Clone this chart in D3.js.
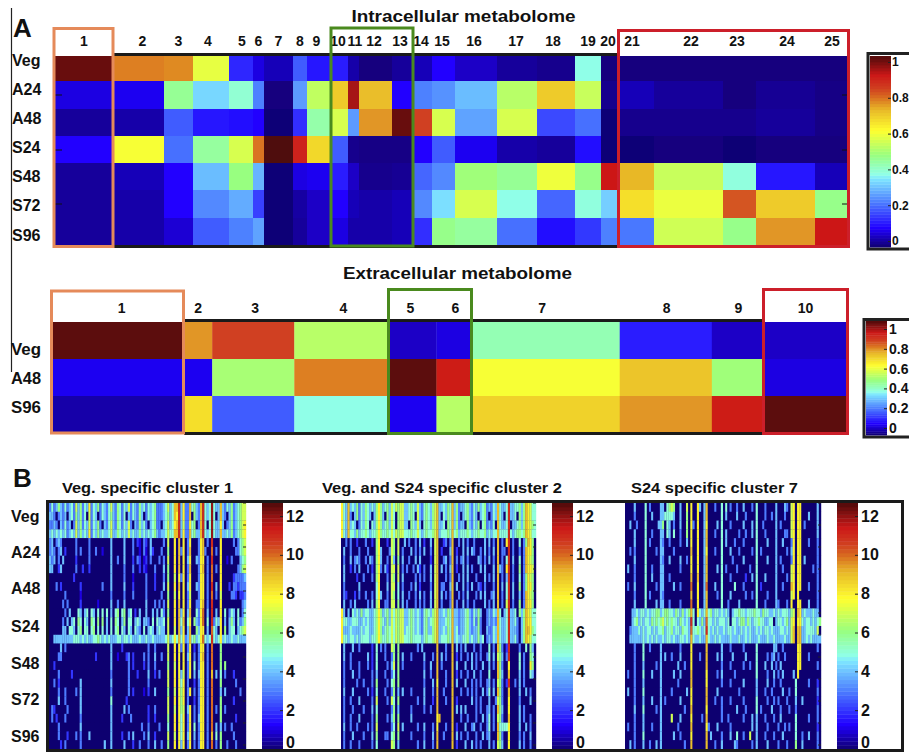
<!DOCTYPE html>
<html>
<head>
<meta charset="utf-8">
<script src="https://cdn.jsdelivr.net/npm/d3@7"></script>
<style>
  html, body { margin: 0; padding: 0; background: #fff; }
  svg { display: block; }
  text { font-family: "Liberation Sans", Arial, sans-serif; font-weight: bold; fill: #111; }
</style>
</head>
<body>
<svg id="chart" width="909" height="752"></svg>
<script>
const intraConditions = ['Veg', 'A24', 'A48', 'S24', 'S48', 'S72', 'S96']
const extraConditions = ['Veg', 'A48', 'S96']
const intraClusters = d3.range(1, 26)
const extraClusters = d3.range(1, 11)

// how many metabolites fall in each cluster (read as relative widths)
const intraSizes = [58, 51, 29, 36, 24, 11, 29, 14, 25, 16, 11, 33, 21, 19, 23, 42, 40, 38, 26, 19, 34, 69, 33, 59, 34]
const extraSizes = [133, 28, 82, 94, 48, 36, 147, 92, 51, 85]

const intraValues = [
  [.98, .77, .76, .58, .14, .08, .05, .2, .12, .13, .04, .01, .03, .05, .1, .06, .03, .02, .38, .01, .01, .01, .01, .01, .01],
  [.08, .09, .46, .34, .4, .24, .01, .27, .53, .69, .93, .71, .1, .24, .26, .31, .52, .69, .54, .02, .05, .03, .01, .025, .015],
  [.03, .04, .2, .12, .11, .1, .005, .15, .44, .56, .27, .75, .98, .83, .56, .28, .56, .18, .22, .005, .02, .02, .02, .03, .015],
  [.1, .6, .22, .45, .56, .78, 1, .88, .67, .2, .02, .015, .015, .1, .2, .09, .04, .03, .11, .005, .005, .01, .003, .01, .01],
  [.03, .05, .1, .31, .48, .3, .005, .08, .09, .13, .06, .02, .025, .21, .25, .49, .46, .59, .47, .9, .72, .54, .39, .12, .05],
  [.03, .04, .1, .25, .29, .17, .005, .035, .06, .1, .05, .04, .05, .25, .35, .56, .38, .21, .39, .33, .66, .585, .81, .69, .47],
  [.03, .04, .07, .2, .24, .28, .005, .03, .06, .08, .04, .04, .05, .15, .47, .45, .22, .11, .16, .24, .23, .55, .47, .75, .9]
]
const extraValues = [
  [.99, .75, .83, .52, .06, .08, .43, .13, .06, .06],
  [.09, .09, .5, .77, .99, .89, .6, .7, .49, .08],
  [.04, .66, .2, .38, .09, .52, .68, .75, .89, .99]
]

const colorStops = [0, .1, .23, .36, .38, .48, .61, .72, .79, .83, .9, .96, 1]
const colorHex = ['#100070', '#2000ff', '#4a78ff', '#80e8ff', '#90ffe8', '#98ff80', '#ffff30', '#e8b828', '#d86820', '#d04020', '#cc1818', '#801010', '#500a0a']

// panel B: one row of characters per replicate, each character is log2 intensity 0-12 (a=10, b=11, c=12)
const clusterTitles = ['Veg. specific cluster 1', 'Veg. and S24 specific cluster 2', 'S24 specific cluster 7']
const clusterLabels = [12, 10, 8, 6, 4, 2, 0]

const vegCluster = [
  '3534643534 5374635483 5463543574 3653547354 3645354563 334574599b 4833956439 b545c54494 3546345677',
  '4430343404 5364635073 5403543564 3653504354 3640354563 334564598b 4833906439 b545c50494 3046345677',
  '3343043534 0374635473 5463043574 3653547304 3645304563 304574589b 4733856039 b505c54484 0346345678',
  '4545454534 5474645483 5464544574 4654547454 4645454564 344575599b 4833956449 b545c54494 4546345678',
  '3403430000 0030000030 0000000040 0000400030 2103204000 0030700809 0803800038 9030b00080 0000303567',
  '3430340200 0030300030 0300100040 0000400030 0103104200 0300600809 3803900038 9300a03080 0000033567',
  '4340304000 0020000030 0000000040 0300400020 3201203000 3030700809 0804800438 8030b00080 0103000456',
  '4400240000 0030020020 0000000040 0000300030 0202100030 0040600809 0803900038 9030a03080 0000003467',
  '0000000000 0200000000 0000000040 0000300010 0000300020 0030600708 3803800038 8030a00080 0000233334',
  '0003020000 0000200000 0000300040 0000400020 0000300020 0040700809 0804800438 8030b04080 0020332333',
  '0000000300 0000100000 0000000030 0000300030 0000300000 0300600708 0803700038 8030a03070 0003320223',
  '0000003030 0000200000 0010000040 0300400000 0000400030 3030700809 0803800338 9030b00080 0000000034',
  '0000000304 0005404505 4050505040 5605604502 0400400404 0530600809 4804900538 a040b04080 5035405035',
  '0000003040 4506505406 5060604050 6504605504 5404430505 4450700809 5905806438 a050b35480 4046405346',
  '0000004405 5405605505 6050504050 5605405405 4305045404 5440700709 4804900648 8040a54080 6045504567',
  '0044444444 4555454544 5565454544 4554554544 4544544544 4445745859 5834956458 a545b54584 5445445444',
  '0000040300 0000000000 0000000040 0002000000 0000030030 0000700808 3803802038 8030a00060 0000000000',
  '0000330000 0000000000 0200000040 0100023020 0003030040 0300700808 0804803038 9030a00060 0000000000',
  '0020000000 0000000000 0000000040 0000003020 0002030030 0000600708 0803805038 8030a00060 6000000000',
  '0000300000 2000000000 0000000030 0000003000 2000040020 3000700808 4703804048 8030904050 3000200000',
  '0030200000 0000400000 0000000040 0000003000 0000030000 0000700808 5803002038 8030a00060 0000030000',
  '0000300300 0030400000 0000000030 0000003020 0001020040 0000600708 6803803038 8030a00040 4000000300',
  '0000400300 0000400000 0000000050 0000020000 0000000000 0000700808 6803002038 8030a00060 0000200000',
  '0320000030 0000400000 0000000040 0000403000 0000020030 0000700708 6704803038 8030a03060 3000000000',
  '0302000300 0000300000 0000000040 0002000300 0000020020 0000600808 5803803048 8030a00060 0000020000',
  '0000300000 0000400000 0000000040 0000000000 0030030000 3000500808 5803805038 8030a04040 3003000000',
  '0000300020 0030300040 0000000040 0002003040 0003040020 0000700708 5804804038 8030905060 0000300000',
  '0000020300 0000300000 0000040040 0000400020 0300030040 0300600808 4803803038 8030a03060 0300030000'
]

const vegS24Cluster = [
  '8549454635 4654546864 5647576774 4565474356 5467944546 5946344564 3546456343 5495445b44 5564698755',
  '8549304635 4654046864 0647506774 4565074356 5467940546 5946304564 3540456303 5495405b44 5064698755',
  '8549454035 4650546864 5647506774 4065474056 5467944506 5946344064 3546056343 5095445b04 4564698765',
  '8549554645 5654556865 5657576775 5565575456 5567945556 5956455565 4556556454 5595555b54 5665698755',
  '0030300200 0300206800 0207607004 0300304020 0407900230 3900304030 0300004040 3090308b03 0050369860',
  '0400300030 0030006840 0037607030 0040303040 0307902000 4902004040 4300304030 4090330b03 0030398860',
  '0300403430 0304306840 0307406040 0300404000 0207900340 3903034030 0004303040 3090305b04 0050398760',
  '0400203040 0030206830 4207707030 3003042030 0407904030 4902004040 3000404000 4094308b03 0060398870',
  '0400000200 3000306800 0307607040 0000303030 0407900030 3900304040 0030004030 4090304b03 0050368760',
  '0300000040 0000005800 0407705030 0030402000 0307903300 4904004030 4003203000 3090405b04 0060368860',
  '0320002030 0300305840 0307605040 0300304030 0407904030 3900303040 0030404003 4090305b04 0040398760',
  '0400304000 0030406800 3307706040 3000303030 0407903000 3903004030 0300004030 4090307b03 0060398860',
  '8404054546 4554456864 5647576774 4565454356 5467944546 5944344564 3546400343 5495045b44 5064698755',
  '8554455544 5454456865 4647576774 4565454356 4567944456 5944344564 3536300343 4395445b44 5304698855',
  '8444544445 4554456864 5657576774 5565454356 4467944546 5945344564 3446300433 5495445b44 4304699865',
  '8554554545 5554556865 5657576775 5565555456 5567945556 5945445564 5446450343 5495445b44 5304698755',
  '0400040030 0000205030 3007606000 0000030400 0000900030 0904030400 0300300050 3096302b00 0030050640',
  '0400300000 0040205000 3003606040 0030000040 0030904030 0902030030 4030300350 4076403b00 0050300650',
  '0300300030 0030205000 0304706030 0000000030 0400903000 0904000400 4030040040 3096300800 0050300860',
  '0300040030 0000304000 3003506000 0000000040 0300900030 0902030030 0400300050 0096400900 0040300540',
  '0300000300 3000306000 0305606000 0000000030 0040800030 0904000400 3030300340 3076302b00 3040300000',
  '0400040000 0030205000 3003604040 0030000040 0030900300 0900030030 3030040350 4096300900 0040040300',
  '0300300040 0000307000 0307506000 0000030040 0020900030 0902000000 4030300040 0376300800 0030000400',
  '0300030000 3000405000 0003604000 0030000030 0300900000 0904040400 0030300340 3096400800 0040300000',
  '0300300040 0000306000 0304606000 0040000000 0000890000 0900030030 0030040350 3076300900 0040300300',
  '0400300300 0030307000 0003507040 0000030040 0030800030 0902000400 3400300350 3095555800 0040040300',
  '0300040000 3000406000 3305606000 0030000030 0040900300 0904030030 0030040340 0096300800 0030300400',
  '0300300030 0000305000 0007604000 0000030040 0030900000 0902000400 4030300040 3076400800 0040300300'
]

const s24Cluster = [
  '0000400005 0300004405 6760040070 8008404900 0300505030 0300400030 5000300004 0004307808 8000000040',
  '0000300005 0040004455 5540040060 8008004900 0000504000 0400030000 5000300304 0003007808 8000400040',
  '0040030005 0000044605 4030040060 8308004800 0040500030 0000400040 5003000004 0300007808 8030000040',
  '0000400005 0030004405 4050030060 8008004900 0300504000 0030030040 5000300004 0003307808 8000000040',
  '0000400005 0300004300 3000030040 8008004900 0000504000 3000300000 5000040004 0040003808 8000300030',
  '0030300005 0000304400 0030000000 9008004800 0300500040 0030000030 5030000004 0000304808 8000000030',
  '0000400005 0000004300 4000040030 8008004900 0000500003 0000400000 5000040004 0300003808 8040000030',
  '0400300005 0030004400 0000030000 8008004900 0040503000 0300000300 5000000004 0030007808 8000003030',
  '0000300005 0040004400 3000000000 9009004900 0000500030 0000020040 5000400004 0000307808 8000000030',
  '0300400005 0000304400 0040030000 a008004a00 0400500000 5000300000 5020000004 0030009808 8000300030',
  '0000300005 0300004300 0000000000 9008004900 0030500040 0000030030 5000030004 0000007808 0000000030',
  '0000400005 0000404400 3000030000 a008004900 0000500300 0040000000 5000300004 3000308008 8000400030',
  '0004454554 5455664566 5546546456 9508545956 4554545404 5565545556 5546554454 5455546709 8454445440',
  '0004564545 5465656756 5655465454 b505464a55 4545554505 5456646545 5655445504 5545647808 8545545456',
  '0034445454 5545455645 5645546554 a556545b54 5454454554 5445454544 5454554544 4554547909 9445555470',
  '0044444454 5454544545 5454455454 9544544954 4545444454 4454454544 4544454454 4445447909 9445454444',
  '0000300050 0300004000 0000030000 8000000900 0000400030 0000300000 5000000044 0030000008 8000000030',
  '0000300050 0000004040 0300040000 8000300900 0040400004 0000040000 5000030340 3003000008 8000300000',
  '0000300040 0000304000 0000400300 8000000900 0000300030 0000300300 5000400403 0400000008 8000000030',
  '0300300050 0040004000 0040040000 9000000800 0030400000 3000000000 5000030040 3040000408 0000000000',
  '0000300040 0000004000 0000300000 9000000800 0000300030 0000400000 4000040030 0300000050 0000300020',
  '0400300050 0000004000 0300000040 8000000900 0040000000 0030000000 4000300300 0040030050 0000000030',
  '0000300040 0040004030 0000040000 8000000900 0300300030 0000300000 5000030030 3000300040 0400000020',
  '0000400050 0000304000 0000000300 9000000800 0000300000 0400030000 5030000400 0300030030 0000000030',
  '0000300040 0000004000 0700040000 8000030900 0000300300 0000300040 4000300030 0400000050 0000300030',
  '0300300040 0030004000 0000300000 9000000830 0040000030 0000000040 4000030000 3003030050 0000000020',
  '0000300050 0000004000 0040030000 8000000904 0000300040 0500300700 4000300030 0040000050 0300400030',
  '0040300040 0300404000 0000000300 9000000900 0300400000 4300000030 4000040000 3000300060 0400000030'
]

const svg = d3.select('#chart')
const jet = d3.scaleLinear().domain(colorStops).range(colorHex).clamp(true)
const logMax = 12.7

svg.append('defs').append('filter').attr('id', 'soft')
  .append('feGaussianBlur').attr('stdDeviation', 0.45)

function addText(x, y, str, size, anchor, length) {
  const t = svg.append('text')
    .attr('x', x).attr('y', y)
    .attr('font-size', size)
    .attr('text-anchor', anchor || 'start')
    .attr('dominant-baseline', 'central')
    .text(str)
  if (length) t.attr('textLength', length).attr('lengthAdjust', 'spacingAndGlyphs')
  return t
}

function addBox(x, y, w, h, color) {
  svg.append('rect')
    .attr('x', x).attr('y', y).attr('width', w).attr('height', h)
    .attr('fill', 'none').attr('stroke', color).attr('stroke-width', 3)
}

// cluster heatmap of panel A: column widths follow the cluster sizes
function clusterHeatmap(values, sizes, x0, x1, rowEdges) {
  const edges = d3.cumsum([0].concat(sizes))
  const x = d3.scaleLinear().domain([0, d3.sum(sizes)]).range([x0, x1])
  const y = d3.scaleLinear().domain(d3.range(rowEdges.length)).range(rowEdges)

  const g = svg.append('g').attr('filter', 'url(#soft)')
  values.forEach((row, r) => {
    g.selectAll(null)
      .data(row)
      .enter()
      .append('rect')
      .attr('x', (d, i) => x(edges[i]))
      .attr('y', y(r))
      .attr('width', (d, i) => x(edges[i + 1]) - x(edges[i]) + .3)
      .attr('height', y(r + 1) - y(r) + .3)
      .attr('fill', d => jet(d))
  })
  return (i) => (x(edges[i]) + x(edges[i + 1])) / 2
}

function colorbar(x, y0, y1, width, axisY, tickValues, fmt, fontSize, padding, nudge) {
  const pos = d3.scaleLinear().domain([0, 64]).range([y1, y0])
  svg.append('g').selectAll('rect')
    .data(d3.range(64))
    .enter()
    .append('rect')
    .attr('x', x)
    .attr('y', i => pos(i + 1))
    .attr('width', width)
    .attr('height', i => pos(i) - pos(i + 1) + .4)
    .attr('fill', i => jet((i + .5) / 64))

  const axis = d3.axisRight(axisY).tickValues(tickValues).tickFormat(fmt).tickSize(-3).tickPadding(padding)
  const a = svg.append('g').attr('transform', `translate(${x + width},0)`).call(axis)
  a.select('.domain').remove()
  a.selectAll('line').attr('stroke', '#222')
  a.selectAll('text')
    .attr('font-size', fontSize)
    .attr('fill', '#111')
    .attr('font-family', '"Liberation Sans", Arial, sans-serif')
    .attr('font-weight', 'bold')
    .attr('dy', d => (nudge && nudge(d)) || '.32em')
}

// --- panel A, intracellular ---
svg.append('line').attr('x1', 11.5).attr('x2', 11.5).attr('y1', 8).attr('y2', 372).attr('stroke', '#222').attr('stroke-width', 1.2)
addText(13, 28, 'A', 26)
addText(463.5, 16, 'Intracellular  metabolome', 16, 'middle', 224)

const intraCenter = clusterHeatmap(intraValues, intraSizes, 55, 849,
  [56, 81, 109, 136, 163, 190, 218, 245])

svg.append('rect').attr('x', 113).attr('y', 53).attr('width', 505).attr('height', 3).attr('fill', '#1a1a1a')
svg.append('rect').attr('x', 113).attr('y', 245).attr('width', 505).attr('height', 3).attr('fill', '#1a1a1a')

// the number labels do not sit exactly over their columns
const intraNudge = [0, 4, 0, -3, 1, 0, 0, 0, -3, -2, 1.5, -1.5, -2.5, -1.5, -1.5, -2, -1, -3, 0, -2.5, -5, 2.5, -2.5, 1.5, 0]
intraClusters.forEach((c, i) => {
  addText(intraCenter(i) + intraNudge[i], 41, c, 14, 'middle')
})
const intraRowY = [60, 89, 118, 147, 176, 205, 235]
intraConditions.forEach((c, i) => addText(12, intraRowY[i], c, 16))

// small ticks inside the map
const sideTicks = [95, 150, 204]
sideTicks.forEach(t => {
  svg.append('line').attr('x1', 55).attr('x2', 62).attr('y1', t).attr('y2', t).attr('stroke', '#111')
  svg.append('line').attr('x1', 842).attr('x2', 849).attr('y1', t).attr('y2', t).attr('stroke', '#111')
})

addBox(54, 28.5, 59, 218, '#e58a5a')
addBox(331, 28, 82, 218, '#4a8a1e')
addBox(618.5, 30.5, 230, 216, '#cc1f2a')

svg.append('path').attr('d', 'M909,53.5 H868 V249 H909').attr('fill', 'none').attr('stroke', '#222').attr('stroke-width', 3)
colorbar(870, 56, 247, 21, d3.scaleLinear().domain([0, 1]).range([241, 62]), [0, .2, .4, .6, .8, 1], d3.format('~g'), 12, 1)

// --- panel A, extracellular ---
addText(457.5, 273, 'Extracellular  metabolome', 16, 'middle', 229)

const extraCenter = clusterHeatmap(extraValues, extraSizes, 51, 848,
  [322, 359, 396, 432])

svg.append('rect').attr('x', 184).attr('y', 319).attr('width', 579).attr('height', 3).attr('fill', '#1a1a1a')
svg.append('rect').attr('x', 184).attr('y', 432).attr('width', 579).attr('height', 3).attr('fill', '#1a1a1a')

const extraNudge = [4, 0, 2, 2, -2, 1, -4, 1, 1, 0]
extraClusters.forEach((c, i) => {
  addText(extraCenter(i) + extraNudge[i], 308, c, 14, 'middle')
})
const extraRowY = [349, 378, 407]
extraConditions.forEach((c, i) => addText(11, extraRowY[i], c, 16, 'start', 30))

addBox(51.5, 291, 132, 142, '#e58a5a')
addBox(388.5, 289.5, 83, 144, '#4a8a1e')
addBox(763.5, 289.5, 84, 144, '#cc1f2a')

svg.append('path').attr('d', 'M909,319.5 H864 V437 H909').attr('fill', 'none').attr('stroke', '#222').attr('stroke-width', 3)
colorbar(866, 321, 435, 21, d3.scaleLinear().domain([0, 1]).range([428, 329]), [0, .2, .4, .6, .8, 1], d3.format('~g'), 14, 2)

// --- panel B ---
addText(13, 478, 'B', 26)

const bRowY = [516, 552, 588, 626, 663, 699, 736]
intraConditions.forEach((c, i) => addText(11, bRowY[i], c, 16))

const panelsB = [
  { matrix: vegCluster, x0: 49, x1: 246, bar: 262, titleX: 147.5, titleW: 171 },
  { matrix: vegS24Cluster, x0: 341, x1: 536, bar: 552, titleX: 442, titleW: 240 },
  { matrix: s24Cluster, x0: 625, x1: 821, bar: 837, titleX: 714.5, titleW: 167 }
]

const rowScale = d3.scaleBand().domain(d3.range(28)).range([503, 749])
const barAxis = d3.scaleLinear().domain([0, 12]).range([749, 516])
const mapTicks = d3.range(503, 749, 22)

panelsB.forEach((p, k) => {
  const cells = p.matrix.map(s => s.replace(/ /g, '').split('').slice(0, 90).map(c => parseInt(c, 13)))
  const colScale = d3.scaleBand().domain(d3.range(90)).range([p.x0, p.x1])
  const g = svg.append('g').attr('filter', 'url(#soft)')

  g.append('rect').attr('x', p.x0).attr('y', 503).attr('width', p.x1 - p.x0).attr('height', 246).attr('fill', jet(0))
  cells.forEach((row, r) => {
    g.selectAll(null)
      .data(row)
      .enter()
      .append('rect')
      .attr('x', (d, i) => colScale(i))
      .attr('y', rowScale(r))
      .attr('width', colScale.bandwidth() + .2)
      .attr('height', rowScale.bandwidth() + .2)
      .attr('fill', d => jet(d / logMax))
  })

  svg.append('g').selectAll('line')
    .data(mapTicks)
    .enter()
    .append('line')
    .attr('x1', p.x1 - 3).attr('x2', p.x1)
    .attr('y1', d => d).attr('y2', d => d)
    .attr('stroke', '#222')

  addText(p.titleX, 487, clusterTitles[k], 15, 'middle', p.titleW)
  colorbar(p.bar, 503, 749, 21, barAxis, clusterLabels, d => d, 16, 3, d => d == 0 ? '-.12em' : null)
})

// frame goes last so it sits over the edges of the maps
svg.append('rect').attr('x', 47.5).attr('y', 501.5).attr('width', 855).attr('height', 249)
  .attr('fill', 'none').attr('stroke', '#1a1a1a').attr('stroke-width', 3)
</script>
</body>
</html>
